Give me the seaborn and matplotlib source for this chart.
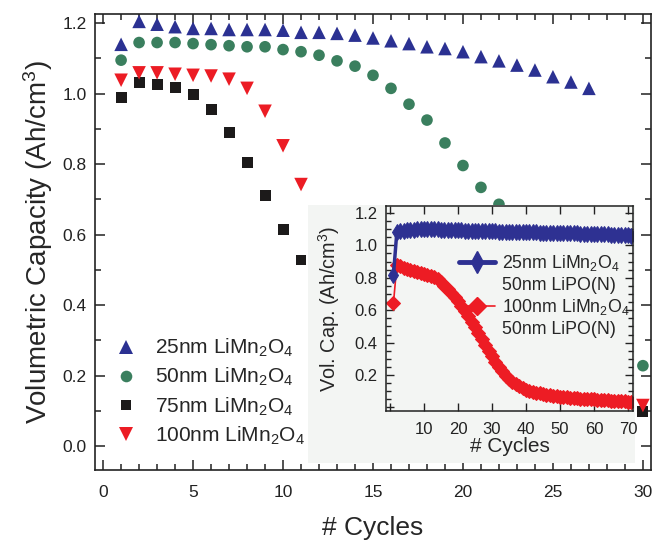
import numpy as np
import pandas as pd
import seaborn as sns
import matplotlib.pyplot as plt
from matplotlib.lines import Line2D
from matplotlib.patches import Rectangle
from matplotlib.ticker import MultipleLocator

nan = np.nan

# main panel: capacity vs cycle for four cathode thicknesses
cycles = list(range(1, 31))
labels = ["25nm LiMn$\\mathregular{_2}$O$\\mathregular{_4}$",
          "50nm LiMn$\\mathregular{_2}$O$\\mathregular{_4}$",
          "75nm LiMn$\\mathregular{_2}$O$\\mathregular{_4}$",
          "100nm LiMn$\\mathregular{_2}$O$\\mathregular{_4}$"]
cap_25nm = [1.14, 1.205, 1.197, 1.19, 1.185, 1.185, 1.182, 1.182, 1.182, 1.18,
            1.174, 1.174, 1.171, 1.166, 1.158, 1.15, 1.142, 1.133, 1.128, 1.119,
            1.105, 1.093, 1.081, 1.067, 1.048, 1.033, 1.015, nan, nan, nan]
cap_50nm = [1.095, 1.145, 1.145, 1.145, 1.142, 1.139, 1.136, 1.133, 1.133, 1.125,
            1.119, 1.109, 1.093, 1.078, 1.052, 1.015, 0.97, 0.925, 0.86, 0.796,
            0.734, 0.686, nan, nan, nan, nan, nan, nan, nan, 0.228]
cap_75nm = [0.988, 1.032, 1.027, 1.018, 0.998, 0.956, 0.89, 0.805, 0.71, 0.615,
            0.528, nan, nan, nan, nan, nan, nan, nan, nan, nan,
            nan, nan, nan, nan, nan, nan, nan, nan, nan, 0.097]
cap_100nm = [1.038, 1.059, 1.059, 1.055, 1.052, 1.05, 1.041, 1.015, 0.95, 0.852,
             0.742, nan, nan, nan, nan, nan, nan, nan, nan, nan,
             nan, nan, nan, nan, nan, nan, nan, nan, nan, 0.115]

# inset: 71 cycles with 50nm LiPO(N) electrolyte
cycles_inset = list(range(1, 72))
inset_25nm = [0.82, 1.085, 1.088, 1.09, 1.093, 1.095, 1.097, 1.098, 1.1, 1.1,
              1.1, 1.1, 1.099, 1.098, 1.097, 1.096, 1.095, 1.094, 1.093, 1.093,
              1.092, 1.091, 1.09, 1.09, 1.089, 1.088, 1.088, 1.087, 1.087, 1.086,
              1.086, 1.085, 1.085, 1.084, 1.084, 1.083, 1.083, 1.082, 1.082, 1.081,
              1.081, 1.08, 1.08, 1.079, 1.079, 1.078, 1.078, 1.077, 1.077, 1.076,
              1.076, 1.075, 1.075, 1.074, 1.074, 1.073, 1.073, 1.072, 1.072, 1.071,
              1.07, 1.07, 1.069, 1.068, 1.067, 1.066, 1.065, 1.064, 1.063, 1.062,
              1.06]
inset_100nm = [0.645, 0.88, 0.87, 0.862, 0.855, 0.848, 0.842, 0.835, 0.828, 0.822,
               0.818, 0.812, 0.803, 0.79, 0.772, 0.752, 0.73, 0.707, 0.682, 0.655,
               0.626, 0.595, 0.563, 0.53, 0.495, 0.46, 0.423, 0.387, 0.35, 0.315,
               0.282, 0.25, 0.222, 0.197, 0.176, 0.158, 0.143, 0.13, 0.119, 0.11,
               0.102, 0.096, 0.09, 0.086, 0.082, 0.078, 0.075, 0.072, 0.07, 0.067,
               0.065, 0.063, 0.061, 0.059, 0.057, 0.055, 0.054, 0.052, 0.051, 0.049,
               0.048, 0.046, 0.045, 0.044, 0.042, 0.041, 0.04, 0.039, 0.037, 0.036,
               0.035]
inset_labels = ["25nm LiMn$\\mathregular{_2}$O$\\mathregular{_4}$", "50nm LiPO(N)",
                "100nm LiMn$\\mathregular{_2}$O$\\mathregular{_4}$", "50nm LiPO(N)"]

colors = ["#2b3192", "#3a7f5e", "#1c1a1a", "#ec1c24"]
markers = ["^", "o", "s", "v"]
sizes = [95, 70, 62, 95]

sns.set_style("ticks")
plt.rcParams["font.family"] = ["Liberation Sans", "DejaVu Sans"]
plt.rcParams["mathtext.fontset"] = "custom"
plt.rcParams["mathtext.rm"] = "Liberation Sans"

df = pd.DataFrame({
    "cycle": cycles * 4,
    "cap": cap_25nm + cap_50nm + cap_75nm + cap_100nm,
    "sample": sum([[l] * len(cycles) for l in labels], []),
}).dropna()

fig = plt.figure(figsize=(6.54, 5.43), dpi=100)
W, H = 654, 543
ax = fig.add_axes([95 / W, 1 - 470 / H, (651 - 95) / W, (470 - 14) / H])

sns.scatterplot(df, x="cycle", y="cap", hue="sample", style="sample", size="sample",
                hue_order=labels, palette=dict(zip(labels, colors)),
                markers=dict(zip(labels, markers)), sizes=dict(zip(labels, sizes)),
                linewidth=0, ax=ax)

ax.set_xlim(-0.45, 30.45)
ax.set_ylim(-0.068, 1.226)
ax.xaxis.set_major_locator(MultipleLocator(5))
ax.xaxis.set_minor_locator(MultipleLocator(1))
ax.yaxis.set_major_locator(MultipleLocator(0.2))
ax.yaxis.set_minor_locator(MultipleLocator(0.1))
ax.tick_params(which="both", direction="in", top=True, right=True,
               labelsize=12.5, width=1.1, colors="#222222", pad=6)
ax.tick_params(axis="x", which="both", pad=11)
ax.tick_params(which="major", length=7)
ax.tick_params(which="minor", length=4)
for s in ax.spines.values():
    s.set_linewidth(1.2)
    s.set_color("#222222")
ax.set_xlabel("# Cycles", fontsize=19, labelpad=11)
ax.set_ylabel("Volumetric Capacity (Ah/cm$\\mathregular{^3}$)", fontsize=20, labelpad=5)

h, l = ax.get_legend_handles_labels()
ax.legend(h, l, loc="upper left", bbox_to_anchor=(116 / W, 1 - 337 / H),
          bbox_transform=fig.transFigure, frameon=False, fontsize=15,
          handlelength=1.0, handletextpad=0.85, labelspacing=0.33, borderpad=0,
          borderaxespad=0)

# light panel behind the inset
fig.patches.append(Rectangle((308 / W, 1 - 463 / H), (635 - 308) / W, (463 - 205) / H,
                             transform=fig.transFigure, facecolor="#f3f5f3",
                             edgecolor="none", zorder=1))

axi = fig.add_axes([386 / W, 1 - 411 / H, (633 - 386) / W, (411 - 206) / H], zorder=2)
axi.set_facecolor("#f3f5f3")
df_a = pd.DataFrame({"cycle": cycles_inset, "cap": inset_25nm})
df_b = pd.DataFrame({"cycle": cycles_inset, "cap": inset_100nm})
sns.lineplot(df_b, x="cycle", y="cap", color="#ed1c24", lw=1.2, marker="D", ms=7.2,
             mec="#ed1c24", ax=axi)
sns.lineplot(df_a, x="cycle", y="cap", color="#2e3192", lw=2.5, marker="d", ms=8,
             mec="#2e3192", ax=axi)
axi.set_xlim(-1.2, 71.5)
axi.set_ylim(-0.022, 1.243)
axi.set_xticks(range(0, 71, 10), [""] + [str(v) for v in range(10, 71, 10)])
axi.set_yticks([0.0, 0.2, 0.4, 0.6, 0.8, 1.0, 1.2],
               ["", "0.2", "0.4", "0.6", "0.8", "1.0", "1.2"])
axi.yaxis.set_minor_locator(MultipleLocator(0.05))
axi.tick_params(which="both", direction="in", top=True, right=True,
                labelsize=12, width=1.0, colors="#222222", pad=6)
axi.tick_params(axis="x", which="both", pad=8)
axi.tick_params(which="major", length=6)
axi.tick_params(which="minor", length=3.5)
for s in axi.spines.values():
    s.set_linewidth(1.1)
    s.set_color("#222222")
axi.set_xlabel("# Cycles", fontsize=15, labelpad=0)
axi.set_ylabel("Vol. Cap. (Ah/cm$\\mathregular{^3}$)", fontsize=14.3, labelpad=9)

inset_handles = [
    Line2D([], [], color="#2e3192", lw=3.5, marker="d", ms=11),
    Line2D([], [], linestyle="none"),
    Line2D([], [], color="#ed1c24", lw=1.2, marker="D", ms=9),
    Line2D([], [], linestyle="none"),
]
axi.legend(inset_handles, inset_labels, loc="upper left",
           bbox_to_anchor=(459 / W, 1 - 253 / H), bbox_transform=fig.transFigure,
           frameon=False, fontsize=12.8, handlelength=2.0, handletextpad=0.4,
           labelspacing=0.2, borderpad=0, borderaxespad=0)

fig.savefig("out.png", dpi=100)
